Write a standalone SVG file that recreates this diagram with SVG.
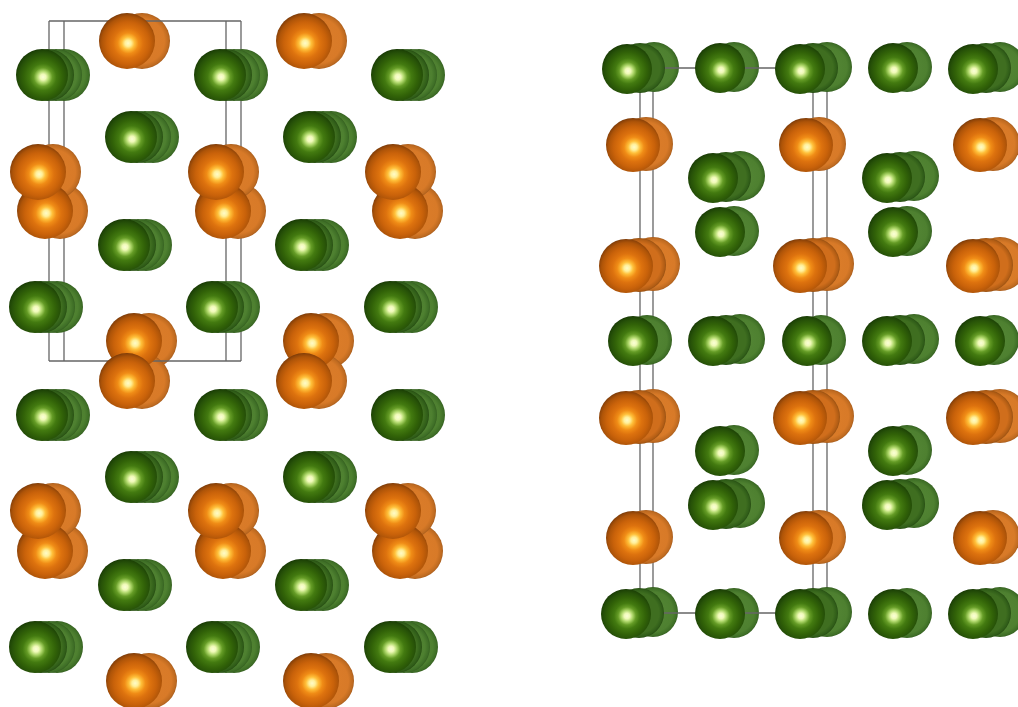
<svg xmlns="http://www.w3.org/2000/svg" width="1018" height="707" viewBox="0 0 1018 707">
<style>
.f{stroke:#666;stroke-width:1.3;fill:none}
.gf{fill:url(#gF)}.gm{fill:url(#gM)}.gb{fill:url(#gB)}
.of{fill:url(#oF)}.om{fill:url(#oM)}.ob{fill:url(#oB)}
</style>
<defs>
<radialGradient id="gF" cx=".52" cy=".54" r=".56"><stop offset="0" stop-color="#fbffd8"/><stop offset=".1" stop-color="#f0fab8"/><stop offset=".2" stop-color="#b0d86c"/><stop offset=".32" stop-color="#659c26"/><stop offset=".46" stop-color="#437a10"/><stop offset=".66" stop-color="#326308"/><stop offset=".82" stop-color="#275208"/><stop offset=".92" stop-color="#1e4406"/><stop offset="1" stop-color="#143003"/></radialGradient>
<radialGradient id="gM" cx=".5" cy=".5" r=".5"><stop offset="0" stop-color="#3f6e20"/><stop offset=".8" stop-color="#3f6e20"/><stop offset=".95" stop-color="#2f5c18"/><stop offset="1" stop-color="#274c12"/></radialGradient>
<radialGradient id="gB" cx=".5" cy=".5" r=".5"><stop offset="0" stop-color="#568837"/><stop offset=".8" stop-color="#4e8030"/><stop offset=".95" stop-color="#3e6e26"/><stop offset="1" stop-color="#355f20"/></radialGradient>
<radialGradient id="oF" cx=".52" cy=".54" r=".56"><stop offset="0" stop-color="#fffbc8"/><stop offset=".1" stop-color="#fff09a"/><stop offset=".2" stop-color="#ffc03a"/><stop offset=".33" stop-color="#f08c16"/><stop offset=".48" stop-color="#dd720e"/><stop offset=".68" stop-color="#c9620a"/><stop offset=".84" stop-color="#ae5408"/><stop offset=".93" stop-color="#8f4408"/><stop offset="1" stop-color="#683208"/></radialGradient>
<radialGradient id="oM" cx=".5" cy=".5" r=".5"><stop offset="0" stop-color="#d06e1c"/><stop offset=".8" stop-color="#d06e1c"/><stop offset=".95" stop-color="#b05c14"/><stop offset="1" stop-color="#965012"/></radialGradient>
<radialGradient id="oB" cx=".5" cy=".5" r=".5"><stop offset="0" stop-color="#dc7e2a"/><stop offset=".8" stop-color="#d87a28"/><stop offset=".95" stop-color="#be6a20"/><stop offset="1" stop-color="#a85c1c"/></radialGradient>

<circle id="LGF" class="gf" r="26"/>
<g id="LGB"><circle class="gb" cx="22" r="26"/><circle class="gb" cx="14" r="26"/><circle class="gm" cx="6" r="26"/></g>
<circle id="LOF" class="of" r="28"/>
<circle id="LOB" class="ob" cx="15" r="28"/>

<circle id="RGF" class="gf" r="25"/>
<circle id="RG2" class="gb" cx="14" cy="-1" r="25"/>
<circle id="RG3r" class="gb" cx="27" cy="-2" r="25"/>
<circle id="RG3m" class="gm" cx="13" cy="-1" r="25"/>
<circle id="ROF" class="of" r="27"/>
<circle id="RO2" class="ob" cx="13" cy="-1" r="27"/>
<circle id="RO3r" class="ob" cx="27" cy="-2" r="27"/>
<circle id="RO3m" class="om" cx="13" cy="-1" r="27"/>
</defs>
<rect width="1018" height="707" fill="#fff"/>

<g id="frame-verticals">
<path class="f" d="M49 21V361M64 21V361M226 21V361M241 21V361"/>
<path class="f" d="M640 68V613M653 68V613M813 68V613M827 68V613"/>
</g>

<g id="left-rear">
<use href="#LOB" x="127" y="41"/><use href="#LOB" x="304" y="41"/>
<use href="#LGB" x="42" y="75"/><use href="#LGB" x="220" y="75"/><use href="#LGB" x="397" y="75"/>
<use href="#LGB" x="131" y="137"/><use href="#LGB" x="309" y="137"/>
<use href="#LOB" x="45" y="211"/><use href="#LOB" x="223" y="211"/><use href="#LOB" x="400" y="211"/>
<use href="#LOB" x="38" y="172"/><use href="#LOB" x="216" y="172"/><use href="#LOB" x="393" y="172"/>
<use href="#LGB" x="124" y="245"/><use href="#LGB" x="301" y="245"/>
<use href="#LGB" x="35" y="307"/><use href="#LGB" x="212" y="307"/><use href="#LGB" x="390" y="307"/>
<use href="#LOB" x="134" y="341"/><use href="#LOB" x="311" y="341"/>
<use href="#LOB" x="127" y="381"/><use href="#LOB" x="304" y="381"/>
<use href="#LGB" x="42" y="415"/><use href="#LGB" x="220" y="415"/><use href="#LGB" x="397" y="415"/>
<use href="#LGB" x="131" y="477"/><use href="#LGB" x="309" y="477"/>
<use href="#LOB" x="45" y="551"/><use href="#LOB" x="223" y="551"/><use href="#LOB" x="400" y="551"/>
<use href="#LOB" x="38" y="511"/><use href="#LOB" x="216" y="511"/><use href="#LOB" x="393" y="511"/>
<use href="#LGB" x="124" y="585"/><use href="#LGB" x="301" y="585"/>
<use href="#LGB" x="35" y="647"/><use href="#LGB" x="212" y="647"/><use href="#LGB" x="390" y="647"/>
<use href="#LOB" x="134" y="681"/><use href="#LOB" x="311" y="681"/>
</g>

<g id="right-rear">
<use href="#RG3r" x="627" y="69"/><use href="#RG2" x="720" y="68"/><use href="#RG3r" x="800" y="69"/><use href="#RG2" x="893" y="68"/><use href="#RG3r" x="973" y="69"/>
<use href="#RO2" x="633" y="145"/><use href="#RO2" x="806" y="145"/><use href="#RO2" x="980" y="145"/>
<use href="#RG3r" x="713" y="178"/><use href="#RG3r" x="887" y="178"/>
<use href="#RG2" x="720" y="232"/><use href="#RG2" x="893" y="232"/>
<use href="#RO3r" x="626" y="266"/><use href="#RO3r" x="800" y="266"/><use href="#RO3r" x="973" y="266"/>
<use href="#RG2" x="633" y="341"/><use href="#RG3r" x="713" y="341"/><use href="#RG2" x="807" y="341"/><use href="#RG3r" x="887" y="341"/><use href="#RG2" x="980" y="341"/>
<use href="#RO3r" x="626" y="418"/><use href="#RO3r" x="800" y="418"/><use href="#RO3r" x="973" y="418"/>
<use href="#RG2" x="720" y="451"/><use href="#RG2" x="893" y="451"/>
<use href="#RG3r" x="713" y="505"/><use href="#RG3r" x="887" y="505"/>
<use href="#RO2" x="633" y="538"/><use href="#RO2" x="806" y="538"/><use href="#RO2" x="980" y="538"/>
<use href="#RG3r" x="626" y="614"/><use href="#RG2" x="720" y="614"/><use href="#RG3r" x="800" y="614"/><use href="#RG2" x="893" y="614"/><use href="#RG3r" x="973" y="614"/>
</g>

<g id="frame-horizontals">
<path class="f" d="M49 21H241M49 361H241"/>
<path class="f" d="M640 68H827M640 613H827"/>
</g>

<g id="right-mid">
<use href="#RG3m" x="627" y="69"/><use href="#RG3m" x="800" y="69"/><use href="#RG3m" x="973" y="69"/>
<use href="#RG3m" x="713" y="178"/><use href="#RG3m" x="887" y="178"/>
<use href="#RO3m" x="626" y="266"/><use href="#RO3m" x="800" y="266"/><use href="#RO3m" x="973" y="266"/>
<use href="#RG3m" x="713" y="341"/><use href="#RG3m" x="887" y="341"/>
<use href="#RO3m" x="626" y="418"/><use href="#RO3m" x="800" y="418"/><use href="#RO3m" x="973" y="418"/>
<use href="#RG3m" x="713" y="505"/><use href="#RG3m" x="887" y="505"/>
<use href="#RG3m" x="626" y="614"/><use href="#RG3m" x="800" y="614"/><use href="#RG3m" x="973" y="614"/>
</g>

<g id="left-front">
<use href="#LOF" x="127" y="41"/><use href="#LOF" x="304" y="41"/>
<use href="#LGF" x="42" y="75"/><use href="#LGF" x="220" y="75"/><use href="#LGF" x="397" y="75"/>
<use href="#LGF" x="131" y="137"/><use href="#LGF" x="309" y="137"/>
<use href="#LOF" x="45" y="211"/><use href="#LOF" x="223" y="211"/><use href="#LOF" x="400" y="211"/>
<use href="#LOF" x="38" y="172"/><use href="#LOF" x="216" y="172"/><use href="#LOF" x="393" y="172"/>
<use href="#LGF" x="124" y="245"/><use href="#LGF" x="301" y="245"/>
<use href="#LGF" x="35" y="307"/><use href="#LGF" x="212" y="307"/><use href="#LGF" x="390" y="307"/>
<use href="#LOF" x="134" y="341"/><use href="#LOF" x="311" y="341"/>
<use href="#LOF" x="127" y="381"/><use href="#LOF" x="304" y="381"/>
<use href="#LGF" x="42" y="415"/><use href="#LGF" x="220" y="415"/><use href="#LGF" x="397" y="415"/>
<use href="#LGF" x="131" y="477"/><use href="#LGF" x="309" y="477"/>
<use href="#LOF" x="45" y="551"/><use href="#LOF" x="223" y="551"/><use href="#LOF" x="400" y="551"/>
<use href="#LOF" x="38" y="511"/><use href="#LOF" x="216" y="511"/><use href="#LOF" x="393" y="511"/>
<use href="#LGF" x="124" y="585"/><use href="#LGF" x="301" y="585"/>
<use href="#LGF" x="35" y="647"/><use href="#LGF" x="212" y="647"/><use href="#LGF" x="390" y="647"/>
<use href="#LOF" x="134" y="681"/><use href="#LOF" x="311" y="681"/>
</g>

<g id="right-front">
<use href="#RGF" x="627" y="69"/><use href="#RGF" x="720" y="68"/><use href="#RGF" x="800" y="69"/><use href="#RGF" x="893" y="68"/><use href="#RGF" x="973" y="69"/>
<use href="#ROF" x="633" y="145"/><use href="#ROF" x="806" y="145"/><use href="#ROF" x="980" y="145"/>
<use href="#RGF" x="713" y="178"/><use href="#RGF" x="887" y="178"/>
<use href="#RGF" x="720" y="232"/><use href="#RGF" x="893" y="232"/>
<use href="#ROF" x="626" y="266"/><use href="#ROF" x="800" y="266"/><use href="#ROF" x="973" y="266"/>
<use href="#RGF" x="633" y="341"/><use href="#RGF" x="713" y="341"/><use href="#RGF" x="807" y="341"/><use href="#RGF" x="887" y="341"/><use href="#RGF" x="980" y="341"/>
<use href="#ROF" x="626" y="418"/><use href="#ROF" x="800" y="418"/><use href="#ROF" x="973" y="418"/>
<use href="#RGF" x="720" y="451"/><use href="#RGF" x="893" y="451"/>
<use href="#RGF" x="713" y="505"/><use href="#RGF" x="887" y="505"/>
<use href="#ROF" x="633" y="538"/><use href="#ROF" x="806" y="538"/><use href="#ROF" x="980" y="538"/>
<use href="#RGF" x="626" y="614"/><use href="#RGF" x="720" y="614"/><use href="#RGF" x="800" y="614"/><use href="#RGF" x="893" y="614"/><use href="#RGF" x="973" y="614"/>
</g>
</svg>
